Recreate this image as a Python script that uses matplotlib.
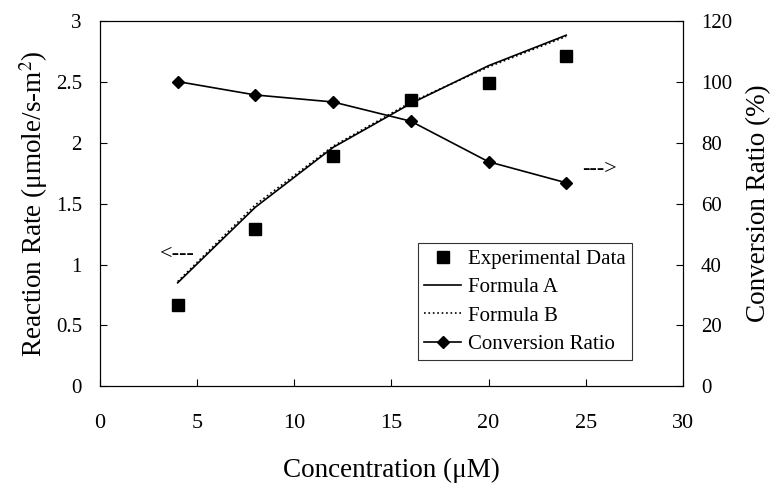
import numpy as np
import matplotlib
matplotlib.use("Agg")
import matplotlib.pyplot as plt

plt.rcParams['font.family'] = ['Liberation Serif', 'DejaVu Serif']
plt.rcParams['mathtext.fontset'] = 'stix'

# data
conc = [4, 8, 12, 16, 20, 24]
rate_exp = [0.67, 1.29, 1.89, 2.35, 2.49, 2.71]
formula_a = [0.85, 1.47, 1.96, 2.32, 2.63, 2.88]
formula_b = [0.86, 1.49, 1.97, 2.33, 2.62, 2.87]
conv_ratio = [100, 95.6, 93.3, 87, 73.7, 66.8]

x_ticks = [0, 5, 10, 15, 20, 25, 30]
left_ticks = [0, 0.5, 1, 1.5, 2, 2.5, 3]
left_ticklabels = ['0', '0.5', '1', '1.5', '2', '2.5', '3']
right_ticks = [0, 20, 40, 60, 80, 100, 120]

fig = plt.figure(figsize=(7.75, 4.84), dpi=100)
ax = fig.add_axes([0.129, 0.2015, 0.752, 0.756])
ax2 = ax.twinx()

h1, = ax.plot(conc, rate_exp, 's', color='black', markersize=8, linestyle='none',
              label='Experimental Data')
h2, = ax.plot(conc, formula_a, '-', color='black', lw=1.2, label='Formula A')
h3, = ax.plot(conc, formula_b, ':', color='black', lw=1.2, label='Formula B')
h4, = ax2.plot(conc, conv_ratio, '-D', color='black', lw=1.2, markersize=6,
               label='Conversion Ratio')

ax.set_xlim(0, 30)
ax.set_ylim(0, 3)
ax2.set_ylim(0, 120)
ax.set_xticks(x_ticks)
ax.set_yticks(left_ticks)
ax.set_yticklabels(left_ticklabels)
ax2.set_yticks(right_ticks)

for a in (ax, ax2):
    a.tick_params(direction='in', labelsize=15, length=5, width=0.8, pad=13)
ax.tick_params(axis='x', labelsize=16, pad=20)

ax.set_xlabel('Concentration (μM)', fontsize=19.5, labelpad=18)
ax.set_ylabel('Reaction Rate (μmole/s-m$^2$)', fontsize=19.5, labelpad=4)
ax2.set_ylabel('Conversion Ratio (%)', fontsize=19.5, labelpad=10)

ax.text(3.07, 1.086, '<---', fontsize=16, va='center', ha='left')
ax.text(24.84, 1.78, '--->', fontsize=16, va='center', ha='left')

leg = ax.legend(handles=[h1, h2, h3, h4], loc='lower left',
                bbox_to_anchor=(0.545, 0.072), fontsize=15, frameon=True,
                fancybox=False, edgecolor='black', handlelength=1.8,
                borderpad=0.3, labelspacing=0.42, handletextpad=0.3,
                borderaxespad=0)
leg.get_frame().set_linewidth(0.8)

fig.savefig('out.png', dpi=100)
